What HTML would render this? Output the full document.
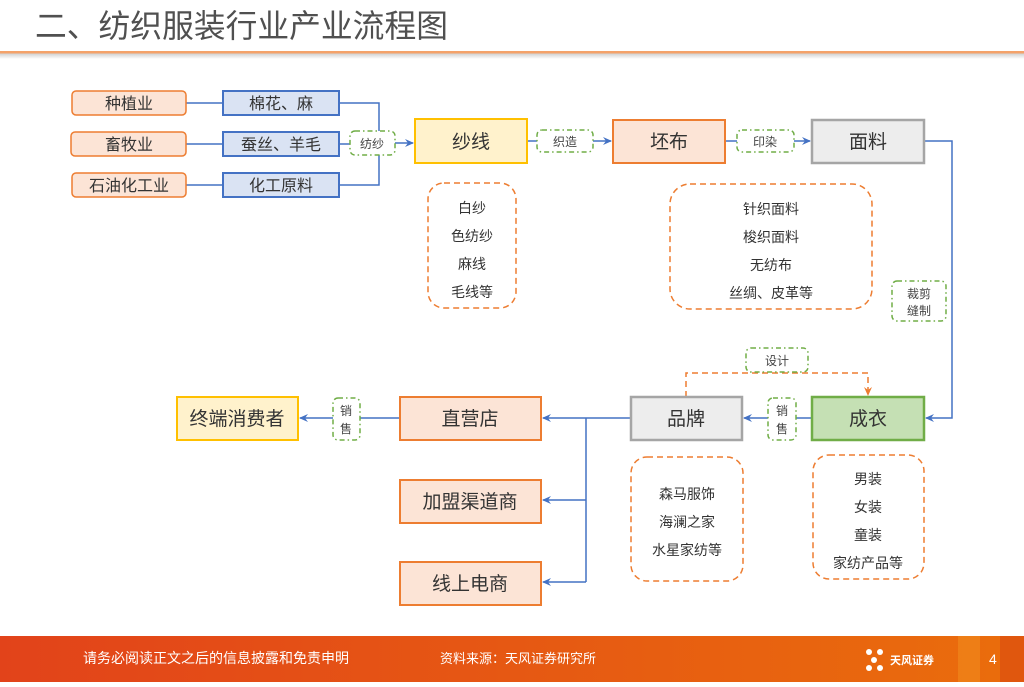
<!DOCTYPE html>
<html><head><meta charset="utf-8"><style>
html,body{margin:0;padding:0;background:#fff;}
body{width:1024px;height:682px;overflow:hidden;position:relative;font-family:"Liberation Sans","Noto Sans CJK SC",sans-serif;}
svg text{font-family:"Liberation Sans","Noto Sans CJK SC",sans-serif;}
</style></head><body>
<svg width="1024" height="682" viewBox="0 0 1024 682" xmlns="http://www.w3.org/2000/svg">
<defs>
<marker id="ab" markerWidth="10" markerHeight="10" refX="8" refY="5" orient="auto" markerUnits="userSpaceOnUse"><path d="M0,1 L9,5 L0,9 L3,5 Z" fill="#4472c4"/></marker>
<marker id="ao" markerWidth="10" markerHeight="10" refX="8" refY="5" orient="auto" markerUnits="userSpaceOnUse"><path d="M0,1 L9,5 L0,9 L3,5 Z" fill="#ed7d31"/></marker>
<linearGradient id="ft" x1="0" x2="1"><stop offset="0" stop-color="#e2431a"/><stop offset="1" stop-color="#ea6d0c"/></linearGradient>
<linearGradient id="sh" x1="0" y1="0" x2="0" y2="1"><stop offset="0" stop-color="#ccc"/><stop offset="1" stop-color="#fff"/></linearGradient>
</defs>
<text x="35" y="37" font-size="32" fill="#505050" textLength="413" lengthAdjust="spacingAndGlyphs">二、纺织服装行业产业流程图</text>
<rect x="0" y="53" width="1024" height="6" fill="url(#sh)"/>
<rect x="0" y="51" width="1024" height="2.5" fill="#f4a26a"/>

<g stroke="#4472c4" stroke-width="1.5" fill="none">
<path d="M186 103H223M186 144H223M186 185H223"/>
<path d="M339 103H379V185H339M339 144H350"/>
<path d="M395 143H413" marker-end="url(#ab)"/>
<path d="M527 141H537M593 141H611" marker-end="url(#ab)"/>
<path d="M725 141H737M794 141H810" marker-end="url(#ab)"/>
<path d="M924 141H952V418H926" marker-end="url(#ab)"/>
<path d="M812 418H796M768 418H744" marker-end="url(#ab)"/>
<path d="M631 418H543" marker-end="url(#ab)"/>
<path d="M586 418V582"/>
<path d="M586 500H543" marker-end="url(#ab)"/>
<path d="M586 582H543" marker-end="url(#ab)"/>
<path d="M400 418H360M333 418H300" marker-end="url(#ab)"/>
</g>
<path d="M686 397V373H868V395" stroke="#ed7d31" stroke-width="1.5" stroke-dasharray="6,4" fill="none" marker-end="url(#ao)"/>

<g font-size="16" fill="#333" text-anchor="middle">
<rect x="72" y="91" width="114" height="24" rx="4" fill="#fce4d6" stroke="#ed7d31" stroke-width="1.5"/><text x="129" y="109">种植业</text>
<rect x="71" y="132" width="115" height="24" rx="4" fill="#fce4d6" stroke="#ed7d31" stroke-width="1.5"/><text x="129" y="150">畜牧业</text>
<rect x="72" y="173" width="114" height="24" rx="4" fill="#fce4d6" stroke="#ed7d31" stroke-width="1.5"/><text x="129" y="191">石油化工业</text>
<rect x="223" y="91" width="116" height="24" fill="#dae3f3" stroke="#4472c4" stroke-width="2"/><text x="281" y="109">棉花、麻</text>
<rect x="223" y="132" width="116" height="24" fill="#dae3f3" stroke="#4472c4" stroke-width="2"/><text x="281" y="150">蚕丝、羊毛</text>
<rect x="223" y="173" width="116" height="24" fill="#dae3f3" stroke="#4472c4" stroke-width="2"/><text x="281" y="191">化工原料</text>
</g>

<g font-size="19" fill="#333" text-anchor="middle">
<rect x="415" y="119" width="112" height="44" fill="#fff2cc" stroke="#ffc000" stroke-width="2"/><text x="471" y="148">纱线</text>
<rect x="613" y="120" width="112" height="43" fill="#fce4d6" stroke="#ed7d31" stroke-width="2"/><text x="669" y="148">坯布</text>
<rect x="812" y="120" width="112" height="43" fill="#ededed" stroke="#a5a5a5" stroke-width="2.5"/><text x="868" y="148">面料</text>
<rect x="812" y="397" width="112" height="43" fill="#c5e0b4" stroke="#70ad47" stroke-width="2.5"/><text x="868" y="425">成衣</text>
<rect x="631" y="397" width="111" height="43" fill="#ededed" stroke="#a5a5a5" stroke-width="2.5"/><text x="686" y="425">品牌</text>
<rect x="400" y="397" width="141" height="43" fill="#fce4d6" stroke="#ed7d31" stroke-width="2"/><text x="470" y="425">直营店</text>
<rect x="400" y="480" width="141" height="43" fill="#fce4d6" stroke="#ed7d31" stroke-width="2"/><text x="470" y="508">加盟渠道商</text>
<rect x="400" y="562" width="141" height="43" fill="#fce4d6" stroke="#ed7d31" stroke-width="2"/><text x="470" y="590">线上电商</text>
<rect x="177" y="397" width="121" height="43" fill="#fff2cc" stroke="#ffc000" stroke-width="2"/><text x="237" y="425">终端消费者</text>
</g>

<g fill="#fff" stroke="#70ad47" stroke-width="1.5" stroke-dasharray="5,3,1.5,3">
<rect x="350" y="131" width="45" height="24" rx="5"/>
<rect x="537" y="130" width="56" height="22" rx="5"/>
<rect x="737" y="130" width="57" height="22" rx="5"/>
<rect x="892" y="281" width="54" height="40" rx="5"/>
<rect x="746" y="348" width="62" height="24" rx="5"/>
<rect x="768" y="398" width="28" height="42" rx="5"/>
<rect x="333" y="398" width="27" height="42" rx="5"/>
</g>
<g font-size="12" fill="#444" text-anchor="middle">
<text x="372" y="148">纺纱</text>
<text x="565" y="146">织造</text>
<text x="765" y="146">印染</text>
<text x="919" y="298">裁剪</text><text x="919" y="315">缝制</text>
<text x="777" y="365">设计</text>
<text x="782" y="415">销</text><text x="782" y="433">售</text>
<text x="346" y="415">销</text><text x="346" y="433">售</text>
</g>

<g fill="none" stroke="#ed7d31" stroke-width="1.5" stroke-dasharray="6,4">
<rect x="428" y="183" width="88" height="125" rx="16"/>
<rect x="670" y="184" width="202" height="125" rx="20"/>
<rect x="631" y="457" width="112" height="124" rx="16"/>
<rect x="813" y="455" width="111" height="124" rx="16"/>
</g>
<g font-size="14" fill="#333" text-anchor="middle">
<text x="472" y="213">白纱</text><text x="472" y="241">色纺纱</text><text x="472" y="269">麻线</text><text x="472" y="297">毛线等</text>
<text x="771" y="214">针织面料</text><text x="771" y="242">梭织面料</text><text x="771" y="270">无纺布</text><text x="771" y="298">丝绸、皮革等</text>
<text x="687" y="499">森马服饰</text><text x="687" y="527">海澜之家</text><text x="687" y="555">水星家纺等</text>
<text x="868" y="484">男装</text><text x="868" y="512">女装</text><text x="868" y="540">童装</text><text x="868" y="568">家纺产品等</text>
</g>

<rect x="0" y="636" width="1024" height="46" fill="url(#ft)"/>
<rect x="958" y="636" width="22" height="46" fill="#f08a1c" opacity="0.6"/>
<rect x="1000" y="636" width="24" height="46" fill="#d84a10" opacity="0.6"/>
<text x="83" y="663" font-size="14" fill="#fff">请务必阅读正文之后的信息披露和免责申明</text>
<text x="440" y="663" font-size="13" fill="#fff">资料来源：天风证券研究所</text>
<g fill="#fff"><circle cx="869" cy="652" r="3"/><circle cx="880" cy="652" r="3"/><circle cx="874" cy="660" r="3"/><circle cx="869" cy="668" r="3"/><circle cx="880" cy="668" r="3"/></g>
<text x="890" y="664" font-size="11" fill="#fff" font-weight="bold">天风证券</text>
<text x="989" y="664" font-size="14" fill="#fff">4</text>
</svg>
</body></html>
